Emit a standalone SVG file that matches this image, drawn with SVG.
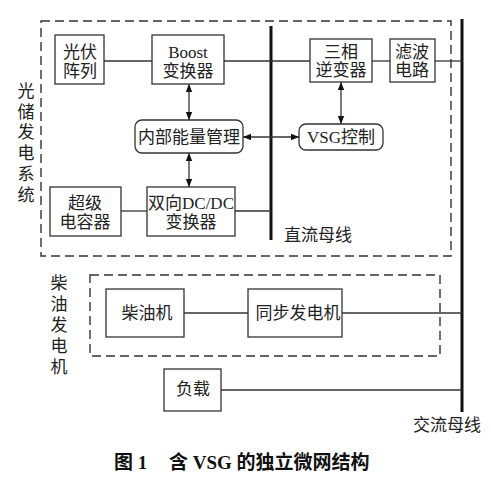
<svg xmlns="http://www.w3.org/2000/svg" width="491" height="478" viewBox="0 0 491 478">
<defs>
<style>
.box{fill:#fff;stroke:#333;stroke-width:1.3}
.dash{fill:none;stroke:#333;stroke-width:1.4;stroke-dasharray:9 5}
.ln{stroke:#333;stroke-width:1.3;fill:none}
.bus{stroke:#111;stroke-width:3;fill:none}
.t{font-family:"Liberation Serif","Noto Sans CJK SC",serif;font-size:17px;fill:#222;text-anchor:middle;dominant-baseline:central}
.cap{font-family:"Liberation Serif","Noto Sans CJK SC",serif;font-size:19px;font-weight:bold;fill:#111}
</style>
<marker id="ah" viewBox="0 0 10 10" refX="10" refY="5" markerWidth="8" markerHeight="8" orient="auto-start-reverse" markerUnits="userSpaceOnUse">
<path d="M0,1 L10,5 L0,9 z" fill="#111"/>
</marker>
</defs>
<rect width="491" height="478" fill="#fff"/>
<g id="groups">
<rect class="dash" x="41" y="21" width="410" height="235"/>
<rect class="dash" x="90" y="275" width="350" height="81"/>
</g>
<g id="connectors">
<line class="bus" x1="462" y1="19" x2="462" y2="412"/>
<line class="bus" x1="271" y1="26" x2="271" y2="240"/>
<line class="ln" x1="104" y1="61" x2="152" y2="61"/>
<line class="ln" x1="224" y1="61" x2="310" y2="61"/>
<line class="ln" x1="372" y1="61" x2="390" y2="61"/>
<line class="ln" x1="435" y1="61" x2="462" y2="61"/>
<line class="ln" x1="121" y1="211" x2="147" y2="211"/>
<line class="ln" x1="235" y1="211" x2="271" y2="211"/>
<line class="ln" x1="184" y1="313" x2="248" y2="313"/>
<line class="ln" x1="342" y1="313" x2="462" y2="313"/>
<line class="ln" x1="221" y1="390" x2="462" y2="390"/>
<line class="ln" x1="189" y1="84" x2="189" y2="120" marker-start="url(#ah)" marker-end="url(#ah)"/>
<line class="ln" x1="189" y1="153" x2="189" y2="187" marker-start="url(#ah)" marker-end="url(#ah)"/>
<line class="ln" x1="243" y1="137" x2="299" y2="137" marker-start="url(#ah)" marker-end="url(#ah)"/>
<line class="ln" x1="341" y1="82" x2="341" y2="124" marker-start="url(#ah)" marker-end="url(#ah)"/>
</g>
<g id="pv"><rect class="box" x="55" y="35" width="49" height="49"/><text class="t" x="80" y="52">光伏</text><text class="t" x="80" y="71">阵列</text></g>
<g id="boost"><rect class="box" x="152" y="35" width="72" height="49"/><text class="t" x="188" y="52">Boost</text><text class="t" x="188" y="71">变换器</text></g>
<g id="inverter"><rect class="box" x="310" y="39" width="62" height="43"/><text class="t" x="341" y="52">三相</text><text class="t" x="341" y="70">逆变器</text></g>
<g id="filter"><rect class="box" x="390" y="39" width="45" height="43"/><text class="t" x="412" y="52">滤波</text><text class="t" x="412" y="70">电路</text></g>
<g id="ems"><rect class="box" x="135" y="120" width="108" height="33" rx="7"/><text class="t" x="189" y="137">内部能量管理</text></g>
<g id="vsg"><rect class="box" x="299" y="124" width="84" height="26" rx="7"/><text class="t" x="341" y="137">VSG控制</text></g>
<g id="sc"><rect class="box" x="50" y="187" width="71" height="49"/><text class="t" x="85" y="203">超级</text><text class="t" x="85" y="222">电容器</text></g>
<g id="dcdc"><rect class="box" x="147" y="187" width="88" height="49"/><text class="t" x="191" y="203" textLength="86" lengthAdjust="spacingAndGlyphs">双向DC/DC</text><text class="t" x="191" y="222">变换器</text></g>
<g id="diesel"><rect class="box" x="106" y="289" width="78" height="48"/><text class="t" x="147" y="313">柴油机</text></g>
<g id="sg"><rect class="box" x="248" y="289" width="94" height="48"/><text class="t" x="298" y="313">同步发电机</text></g>
<g id="load"><rect class="box" x="164" y="369" width="57" height="42"/><text class="t" x="193" y="389">负载</text></g>
<g id="labels">
<text class="t" x="26" y="91">光</text><text class="t" x="26" y="112">储</text><text class="t" x="26" y="132">发</text><text class="t" x="26" y="153">电</text><text class="t" x="26" y="174">系</text><text class="t" x="26" y="195">统</text>
<text class="t" x="59" y="283">柴</text><text class="t" x="59" y="304">油</text><text class="t" x="59" y="325">发</text><text class="t" x="59" y="346">电</text><text class="t" x="59" y="367">机</text>
<text class="t" x="318" y="235">直流母线</text>
<text class="t" x="447" y="425">交流母线</text>
<text class="cap" x="114" y="469">图 1<tspan x="169">含 VSG 的独立微网结构</tspan></text>
</g>
</svg>
